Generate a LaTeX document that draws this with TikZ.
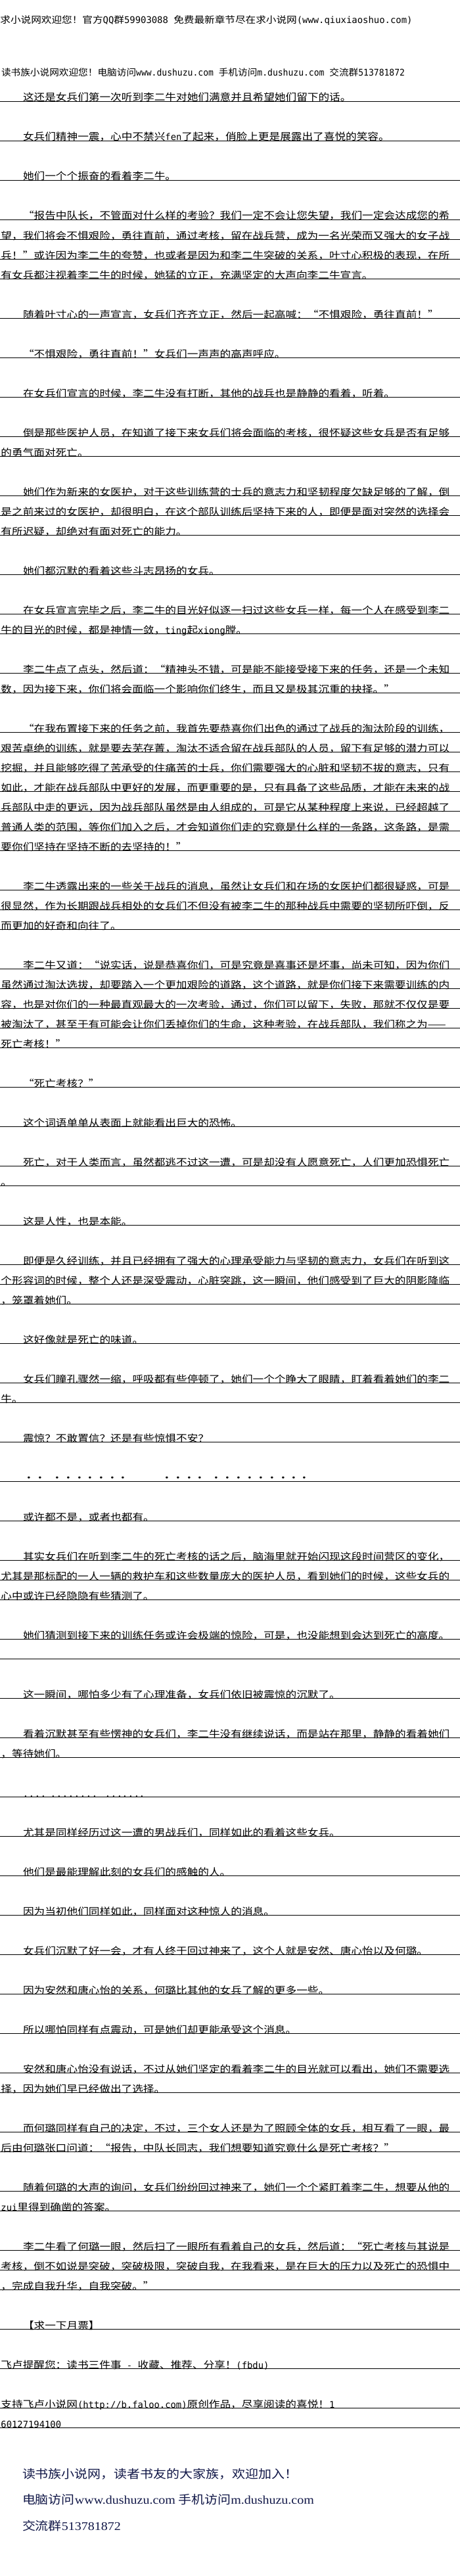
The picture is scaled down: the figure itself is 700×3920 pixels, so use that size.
\documentclass[tikz,border=0pt]{standalone}
\usepackage{fontspec}
\usepackage{graphicx}
\newfontfamily\cjk[FakeStretch=1.11]{Noto Sans CJK SC}
\newfontfamily\hwfam[FakeStretch=0.988]{DejaVu Sans Mono}
\newfontfamily\lser[FakeStretch=1.11]{Liberation Serif}
\newcommand\hw{\hwfam\fontsize{14}{14}\selectfont}
\definecolor{footblue}{RGB}{18,24,72}
\tikzset{
  tx/.style={anchor=base west, inner sep=0pt, outer sep=0pt, font=\cjk\fontsize{15}{15}\selectfont, text=black},
  hd/.style={anchor=base west, inner sep=0pt, outer sep=0pt, font=\cjk\fontsize{14}{14}\selectfont, text=black},
  ul/.style={draw=black, line width=1pt},
  ft/.style={anchor=base west, inner sep=0pt, outer sep=0pt, font=\cjk\fontsize{18}{18}\selectfont, text=footblue},
  dotst/.style={anchor=base, inner sep=0pt, outer sep=0pt, font=\cjk\fontsize{15}{15}\selectfont, text=black}
}
\newcommand\txrow[3]{%
  \draw[ul] (0,{154.5+30*#1}) -- (700,{154.5+30*#1});
  \node[tx] (r#1) at (#2,{154+30*#1}) {#3};}
\begin{document}
\begin{tikzpicture}[x=1pt,y=-1pt]
\useasboundingbox (0,0) rectangle (700,3920);
\fill[white] (0,0) rectangle (700,3920);
% headers
\node[hd] (h1) at (0.5,36) {\resizebox{627pt}{\height}{求小说网欢迎您！官方{\hw QQ}群{\hw 59903088 }免费最新章节尽在求小说网{\hw (www.qiuxiaoshuo.com)}}};
\node[hd] (h2) at (2,116) {\resizebox{614pt}{\height}{读书族小说网欢迎您！电脑访问{\hw www.dushuzu.com }手机访问{\hw m.dushuzu.com }交流群{\hw 513781872}}};
% body
\def\I{35}
\def\N{1.5}
\txrow{0}{\I}{这还是女兵们第一次听到李二牛对她们满意并且希望她们留下的话。}
\txrow{2}{\I}{女兵们精神一震，心中不禁兴{\hw fen}了起来，俏脸上更是展露出了喜悦的笑容。}
\txrow{4}{\I}{她们一个个振奋的看着李二牛。}
\txrow{6}{\I}{“报告中队长，不管面对什么样的考验？我们一定不会让您失望，我们一定会达成您的希}
\txrow{7}{\N}{望，我们将会不惧艰险，勇往直前，通过考核，留在战兵营，成为一名光荣而又强大的女子战}
\txrow{8}{\N}{兵！”或许因为李二牛的夸赞，也或者是因为和李二牛突破的关系，叶寸心积极的表现，在所}
\txrow{9}{\N}{有女兵都注视着李二牛的时候，她猛的立正，充满坚定的大声向李二牛宣言。}
\txrow{11}{\I}{随着叶寸心的一声宣言，女兵们齐齐立正，然后一起高喊：“不惧艰险，勇往直前！”}
\txrow{13}{\I}{“不惧艰险，勇往直前！”女兵们一声声的高声呼应。}
\txrow{15}{\I}{在女兵们宣言的时候，李二牛没有打断，其他的战兵也是静静的看着，听着。}
\txrow{17}{\I}{倒是那些医护人员，在知道了接下来女兵们将会面临的考核，很怀疑这些女兵是否有足够}
\txrow{18}{\N}{的勇气面对死亡。}
\txrow{20}{\I}{她们作为新来的女医护，对于这些训练营的士兵的意志力和坚韧程度欠缺足够的了解，倒}
\txrow{21}{\N}{是之前来过的女医护，却很明白，在这个部队训练后坚持下来的人，即便是面对突然的选择会}
\txrow{22}{\N}{有所迟疑，却绝对有面对死亡的能力。}
\txrow{24}{\I}{她们都沉默的看着这些斗志昂扬的女兵。}
\txrow{26}{\I}{在女兵宣言完毕之后，李二牛的目光好似逐一扫过这些女兵一样，每一个人在感受到李二}
\txrow{27}{\N}{牛的目光的时候，都是神情一敛，{\hw ting}起{\hw xiong}膛。}
\txrow{29}{\I}{李二牛点了点头，然后道：“精神头不错，可是能不能接受接下来的任务，还是一个未知}
\txrow{30}{\N}{数，因为接下来，你们将会面临一个影响你们终生，而且又是极其沉重的抉择。”}
\txrow{32}{\I}{“在我布置接下来的任务之前，我首先要恭喜你们出色的通过了战兵的淘汰阶段的训练，}
\txrow{33}{\N}{艰苦卓绝的训练，就是要去芜存菁，淘汰不适合留在战兵部队的人员，留下有足够的潜力可以}
\txrow{34}{\N}{挖掘，并且能够吃得了苦承受的住痛苦的士兵，你们需要强大的心脏和坚韧不拔的意志，只有}
\txrow{35}{\N}{如此，才能在战兵部队中更好的发展，而更重要的是，只有具备了这些品质，才能在未来的战}
\txrow{36}{\N}{兵部队中走的更远，因为战兵部队虽然是由人组成的，可是它从某种程度上来说，已经超越了}
\txrow{37}{\N}{普通人类的范围，等你们加入之后，才会知道你们走的究竟是什么样的一条路，这条路，是需}
\txrow{38}{\N}{要你们坚持在坚持不断的去坚持的！”}
\txrow{40}{\I}{李二牛透露出来的一些关于战兵的消息，虽然让女兵们和在场的女医护们都很疑惑，可是}
\txrow{41}{\N}{很显然，作为长期跟战兵相处的女兵们不但没有被李二牛的那种战兵中需要的坚韧所吓倒，反}
\txrow{42}{\N}{而更加的好奇和向往了。}
\txrow{44}{\I}{李二牛又道：“说实话，说是恭喜你们，可是究竟是喜事还是坏事，尚未可知，因为你们}
\txrow{45}{\N}{虽然通过淘汰选拔，却要踏入一个更加艰险的道路，这个道路，就是你们接下来需要训练的内}
\txrow{46}{\N}{容，也是对你们的一种最直观最大的一次考验，通过，你们可以留下，失败，那就不仅仅是要}
\txrow{47}{\N}{被淘汰了，甚至于有可能会让你们丢掉你们的生命，这种考验，在战兵部队，我们称之为——}
\txrow{48}{\N}{死亡考核！”}
\txrow{50}{\I}{“死亡考核？”}
\txrow{52}{\I}{这个词语单单从表面上就能看出巨大的恐怖。}
\txrow{54}{\I}{死亡，对于人类而言，虽然都逃不过这一遭，可是却没有人愿意死亡，人们更加恐惧死亡}
\txrow{55}{\N}{。}
\txrow{57}{\I}{这是人性，也是本能。}
\txrow{59}{\I}{即便是久经训练，并且已经拥有了强大的心理承受能力与坚韧的意志力，女兵们在听到这}
\txrow{60}{\N}{个形容词的时候，整个人还是深受震动，心脏突跳，这一瞬间，他们感受到了巨大的阴影降临}
\txrow{61}{\N}{，笼罩着她们。}
\txrow{63}{\I}{这好像就是死亡的味道。}
\txrow{65}{\I}{女兵们瞳孔骤然一缩，呼吸都有些停顿了，她们一个个睁大了眼睛，盯着看着她们的李二}
\txrow{66}{\N}{牛。}
\txrow{68}{\I}{震惊？不敢置信？还是有些惊惧不安？}
\draw[ul] (0,2254.5) -- (700,2254.5);
\foreach \xx [count=\i] in {44,61,87,104,121,137,154,171,187,254,271,288,304,329,346,363,380,397,414,431,447,463}
  \node[dotst] (da\i) at (\xx,2254) {·};
\txrow{72}{\I}{或许都不是，或者也都有。}
\txrow{74}{\I}{其实女兵们在听到李二牛的死亡考核的话之后，脑海里就开始闪现这段时间营区的变化，}
\txrow{75}{\N}{尤其是那标配的一人一辆的救护车和这些数量庞大的医护人员，看到她们的时候，这些女兵的}
\txrow{76}{\N}{心中或许已经隐隐有些猜测了。}
\txrow{78}{\I}{她们猜测到接下来的训练任务或许会极端的惊险，可是，也没能想到会达到死亡的高度。}
\draw[ul] (0,2524.5) -- (700,2524.5);
\txrow{81}{\I}{这一瞬间，哪怕多少有了心理准备，女兵们依旧被震惊的沉默了。}
\txrow{83}{\I}{看着沉默甚至有些愣神的女兵们，李二牛没有继续说话，而是站在那里，静静的看着她们}
\txrow{84}{\N}{，等待她们。}
\draw[ul] (0,2734.5) -- (700,2734.5);
\foreach \xx [count=\i] in {39,48,57,66,81,90,99,108,117,126,135,144,164,173,182,190,199,208,216}
  \node[dotst] (db\i) at (\xx,2734) {.};
\txrow{88}{\I}{尤其是同样经历过这一遭的男战兵们，同样如此的看着这些女兵。}
\txrow{90}{\I}{他们是最能理解此刻的女兵们的感触的人。}
\txrow{92}{\I}{因为当初他们同样如此，同样面对这种惊人的消息。}
\txrow{94}{\I}{女兵们沉默了好一会，才有人终于回过神来了，这个人就是安然、唐心怡以及何璐。}
\txrow{96}{\I}{因为安然和唐心怡的关系，何璐比其他的女兵了解的更多一些。}
\txrow{98}{\I}{所以哪怕同样有点震动，可是她们却更能承受这个消息。}
\txrow{100}{\I}{安然和唐心怡没有说话，不过从她们坚定的看着李二牛的目光就可以看出，她们不需要选}
\txrow{101}{\N}{择，因为她们早已经做出了选择。}
\txrow{103}{\I}{而何璐同样有自己的决定，不过，三个女人还是为了照顾全体的女兵，相互看了一眼，最}
\txrow{104}{\N}{后由何璐张口问道：“报告，中队长同志，我们想要知道究竟什么是死亡考核？”}
\txrow{106}{\I}{随着何璐的大声的询问，女兵们纷纷回过神来了，她们一个个紧盯着李二牛，想要从他的}
\txrow{107}{\N}{{\hw zui}里得到确凿的答案。}
\txrow{109}{\I}{李二牛看了何璐一眼，然后扫了一眼所有看着自己的女兵，然后道：“死亡考核与其说是}
\txrow{110}{\N}{考核，倒不如说是突破，突破极限，突破自我，在我看来，是在巨大的压力以及死亡的恐惧中}
\txrow{111}{\N}{，完成自我升华，自我突破。”}
\txrow{113}{\I}{【求一下月票】}
\txrow{115}{\N}{飞卢提醒您：读书三件事{\hw { }-{ }}收藏、推荐、分享！{\hw (fbdu)}}
\txrow{117}{\N}{支持飞卢小说网{\hw (http://b.faloo.com)}原创作品，尽享阅读的喜悦！{\hw 1}}
\txrow{118}{\N}{{\hw 60127194100}}
% footer
\node[ft] (f1) at (34,3771) {读书族小说网，读者书友的大家族，欢迎加入！};
\node[ft] (f2) at (34,3810) {电脑访问{\lser www.dushuzu.com} 手机访问{\lser m.dushuzu.com}};
\node[ft] (f3) at (34,3850) {交流群{\lser 513781872}};
\end{tikzpicture}
\end{document}
